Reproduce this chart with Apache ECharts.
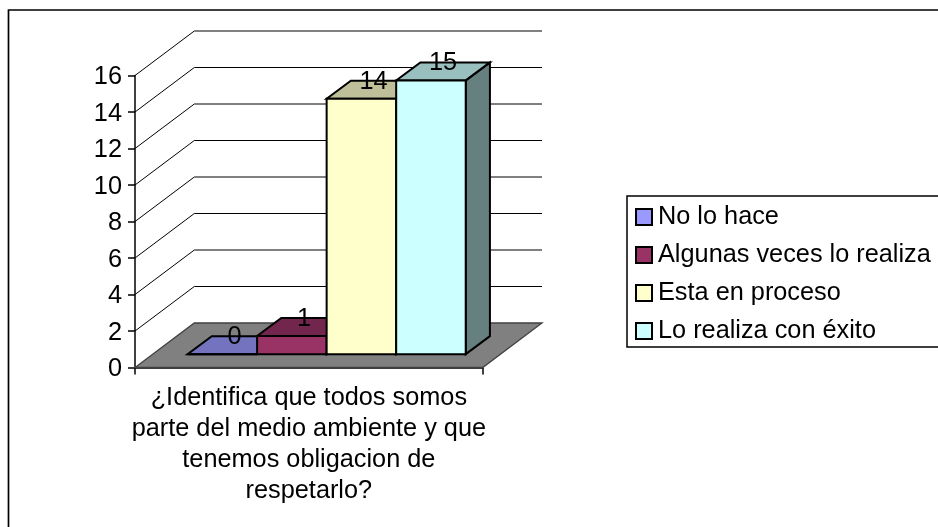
<!DOCTYPE html>
<html>
<head>
<meta charset="utf-8">
<style>html,body{margin:0;padding:0;background:#fff}#chart{width:938px;height:527px}</style>
<script src="https://cdn.jsdelivr.net/npm/echarts@6/dist/echarts.min.js"></script>
</head>
<body>
<div id="chart"></div>
<script>
const categories = ['¿Identifica que todos somos\nparte del medio ambiente y que\ntenemos obligacion de\nrespetarlo?']
const seriesNames = ['No lo hace', 'Algunas veces lo realiza', 'Esta en proceso', 'Lo realiza con éxito']
const seriesValues = [0, 1, 14, 15]
const frontColors = ['#9999FF', '#993366', '#FFFFCC', '#CCFFFF']
const topColors = ['#7373BF', '#73264D', '#BFBF99', '#99BFBF']
const sideColors = ['#4D4D80', '#4D1A33', '#808066', '#668080']
const yTicks = [0, 2, 4, 6, 8, 10, 12, 14, 16]

// profundidad de la caja 3D y de las barras, en pixeles
const WALL_DX = 59.3
const WALL_DY = -44.5
const BAR_DX = 24.2
const BAR_DY = -18
const BAR_OFFSET = 0.3 // posicion de la barra dentro de la caja
const GAP = 0.1
const FONT = 'Liberation Sans, Arial, sans-serif'

const chart = echarts.init(document.getElementById('chart'))

function poly(points, fill, lineWidth) {
  return {
    type: 'polygon',
    shape: { points },
    style: { fill, stroke: '#000', lineWidth, lineJoin: 'miter' }
  }
}

function renderBox(params, api) {
  const band = api.size([1, 0])[0]
  const base = api.coord([0, 0])
  const x0 = base[0] - band / 2
  const x1 = base[0] + band / 2
  const y0 = base[1]
  const children = [{
    type: 'polygon',
    shape: { points: [[x0, y0], [x1, y0], [x1 + WALL_DX, y0 + WALL_DY], [x0 + WALL_DX, y0 + WALL_DY]] },
    style: { fill: '#808080', stroke: '#404040', lineWidth: 1.3 }
  }]
  yTicks.forEach(function(t) {
    const y = api.coord([0, t])[1]
    if (t > 0) {
      children.push({
        type: 'polyline',
        shape: { points: [[x0, y], [x0 + WALL_DX, y + WALL_DY], [x1 + WALL_DX, y + WALL_DY]] },
        style: { fill: 'none', stroke: '#000', lineWidth: 1 }
      })
    }
  })
  return { type: 'group', children }
}

function renderBar(index) {
  return function(params, api) {
    const band = api.size([1, 0])[0]
    const base = api.coord([0, 0])
    const top = api.coord([0, api.value(1)])
    const barW = band * (1 - 2 * GAP) / seriesNames.length
    const xl = base[0] - band / 2 + band * GAP + barW * index + WALL_DX * BAR_OFFSET
    const xr = xl + barW
    const yb = base[1] + WALL_DY * BAR_OFFSET
    const yt = top[1] + WALL_DY * BAR_OFFSET
    return {
      type: 'group',
      children: [
        poly([[xr, yb], [xr + BAR_DX, yb + BAR_DY], [xr + BAR_DX, yt + BAR_DY], [xr, yt]], sideColors[index], 2),
        poly([[xl, yt], [xr, yt], [xr + BAR_DX, yt + BAR_DY], [xl + BAR_DX, yt + BAR_DY]], topColors[index], 2),
        poly([[xl, yb], [xr, yb], [xr, yt], [xl, yt]], frontColors[index], 2),
        {
          type: 'text',
          style: {
            text: String(api.value(1)),
            x: (xl + xr + BAR_DX) / 2,
            y: yt + BAR_DY / 2 - 8,
            align: 'center',
            verticalAlign: 'middle',
            fill: '#000',
            font: '25.3px ' + FONT
          }
        }
      ]
    }
  }
}

const series = [{
  type: 'custom',
  name: 'caja',
  silent: true,
  z: 1,
  data: [[0, 0]],
  encode: { x: 0, y: 1 },
  renderItem: renderBox
}]
seriesNames.forEach(function(name, i) {
  series.push({
    type: 'custom',
    name,
    z: 2 + i,
    data: [[0, seriesValues[i]]],
    encode: { x: 0, y: 1 },
    itemStyle: { color: frontColors[i], borderColor: '#000', borderWidth: 2 },
    renderItem: renderBar(i)
  })
})

chart.setOption({
  animation: false,
  textStyle: { fontFamily: FONT },
  grid: { left: 135, top: 75.5, width: 347.7, height: 292 },
  xAxis: {
    type: 'category',
    data: categories,
    axisLine: { show: true, lineStyle: { color: '#000000', width: 1.5 } },
    axisTick: { show: true, length: 7, lineStyle: { color: '#000000', width: 1.5 } },
    axisLabel: { color: '#000', fontSize: 25.3, lineHeight: 31, margin: 15, interval: 0 }
  },
  yAxis: {
    type: 'value',
    min: 0,
    max: 16,
    interval: 2,
    splitLine: { show: false },
    axisLine: { show: true, lineStyle: { color: '#000000', width: 1.5 } },
    axisTick: { show: true, length: 7, lineStyle: { color: '#000000', width: 1.5 } },
    axisLabel: { color: '#000', fontSize: 25.3, margin: 13, lineHeight: 4, verticalAlign: 'top' }
  },
  legend: {
    data: seriesNames,
    orient: 'vertical',
    left: 635,
    top: 204.6,
    itemWidth: 16,
    itemHeight: 16,
    itemGap: 13,
    icon: 'rect',
    padding: 0,
    textStyle: { color: '#000', fontSize: 25.3, padding: [0, 0, 0, 1] },
    selectedMode: false
  },
  graphic: [
    { type: 'polyline', silent: true, z: 40, shape: { points: [[938, 10], [8.5, 10], [8.5, 527]] }, style: { fill: 'none', stroke: '#000', lineWidth: 1.7 } },
    { type: 'polyline', silent: true, z: 40, shape: { points: [[938, 196], [627, 196], [627, 347], [938, 347]] }, style: { fill: 'none', stroke: '#000', lineWidth: 1.5 } }
  ],
  series
})
</script>
</body>
</html>
